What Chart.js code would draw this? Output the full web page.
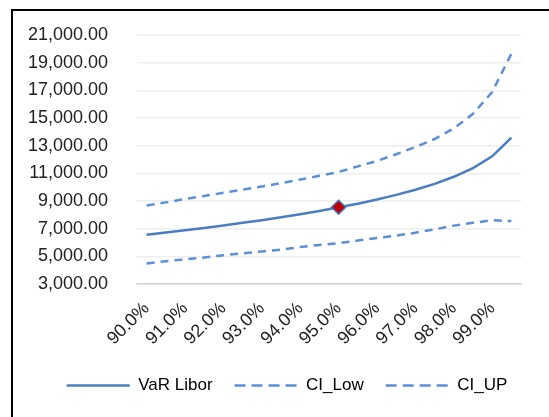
<!DOCTYPE html>
<html>
<head>
<meta charset="utf-8">
<script src="https://cdn.jsdelivr.net/npm/chart.js@4"></script>
<style>
  html, body { margin: 0; padding: 0; background: #fff; overflow: hidden; }
  #frame {
    position: absolute; left: 11px; top: 9px;
    width: 560px; height: 420px;
    border-left: 2px solid #000; border-top: 2px solid #000;
  }
  #wrap { position: absolute; left: 0; top: 0; width: 550px; height: 406px; }
</style>
</head>
<body>
<div id="frame"><div id="wrap"><canvas id="chart"></canvas></div></div>
<script>
// confidence levels (0.5% steps), only every second one gets a label
const levels = ['90.0%', '90.5%', '91.0%', '91.5%', '92.0%', '92.5%', '93.0%', '93.5%', '94.0%', '94.5%',
                '95.0%', '95.5%', '96.0%', '96.5%', '97.0%', '97.5%', '98.0%', '98.5%', '99.0%', '99.5%'];
const varLibor = [6560, 6720, 6880, 7050, 7230, 7420, 7610, 7820, 8040, 8280,
                  8545, 8805, 9105, 9440, 9810, 10240, 10750, 11380, 12230, 13580];
const ciLow = [4490, 4650, 4780, 4920, 5080, 5220, 5350, 5490, 5670, 5820,
               5950, 6140, 6320, 6490, 6710, 6950, 7220, 7420, 7610, 7550];
const ciUp = [8680, 8900, 9140, 9360, 9590, 9820, 10050, 10290, 10550, 10820,
              11100, 11500, 11900, 12380, 12900, 13480, 14250, 15300, 16880, 19650];
const markerIndex = 10; // 95.0%

const solidBlue = '#4A7EC4';
const dashBlue = '#5B90D8';
const font = { family: '"Liberation Sans", Arial, sans-serif', size: 18 };

const ctx = document.getElementById('chart');

// the legend sits a little right of the plot centre in the original
const shiftLegend = {
  id: 'shiftLegend',
  afterLayout(chart) {
    chart.legend.left += 15;
    chart.legend.right += 15;
  }
};

new Chart(ctx, {
  type: 'line',
  data: {
    labels: levels,
    datasets: [{
      label: 'VaR Libor',
      data: varLibor,
      borderColor: solidBlue,
      borderWidth: 2.5,
      pointStyle: 'rectRot',
      pointRadius: varLibor.map((v, i) => i === markerIndex ? 7 : 0),
      pointBackgroundColor: '#C00000',
      pointBorderColor: '#4472C4',
      pointBorderWidth: 1.5,
      tension: 0
    }, {
      label: 'CI_Low',
      data: ciLow,
      borderColor: dashBlue,
      borderWidth: 2.5,
      borderDash: [8, 6],
      pointRadius: 0,
      tension: 0
    }, {
      label: 'CI_UP',
      data: ciUp,
      borderColor: dashBlue,
      borderWidth: 2.5,
      borderDash: [8, 6],
      pointRadius: 0,
      tension: 0
    }]
  },
  options: {
    responsive: true,
    maintainAspectRatio: false,
    animation: false,
    events: [],
    layout: { padding: { left: 10, right: 42, top: 24, bottom: 13 } },
    plugins: {
      tooltip: { enabled: false },
      legend: {
        position: 'bottom',
        labels: {
          usePointStyle: true,
          pointStyleWidth: 63,
          boxHeight: 17,
          padding: 22,
          color: '#222',
          font: { family: font.family, size: 17 },
          // line samples taken from the datasets (solid / dashed)
          generateLabels: chart => chart.data.datasets.map((ds, i) => ({
            text: ds.label,
            fillStyle: ds.borderColor,
            strokeStyle: ds.borderColor,
            lineWidth: ds.borderWidth,
            lineDash: i === 0 ? [] : [11, 6],
            pointStyle: 'line',
            hidden: false,
            datasetIndex: i
          }))
        }
      }
    },
    scales: {
      x: {
        offset: true,
        grid: { display: false, drawTicks: false },
        border: { color: '#D4D4D4', width: 1.5 },
        ticks: {
          autoSkip: false,
          minRotation: 45,
          maxRotation: 45,
          padding: 14,
          color: '#222',
          font: font,
          callback: function (value, index) {
            return index % 2 === 0 ? levels[index] : '';
          }
        },
        afterFit: function (scale) { scale.height = 71; }
      },
      y: {
        min: 3000,
        max: 21000,
        grid: { color: '#EEEEEE', lineWidth: 1.5, drawTicks: true, tickLength: 29, tickColor: 'rgba(0,0,0,0)' },
        border: { display: false },
        ticks: {
          stepSize: 2000,
          padding: 0,
          color: '#222',
          font: font,
          callback: function (value) {
            return value.toLocaleString('en-US', { minimumFractionDigits: 2, maximumFractionDigits: 2 });
          }
        },
        afterFit: function (scale) { scale.width = 114; }
      }
    }
  },
  plugins: [shiftLegend]
});
</script>
</body>
</html>
